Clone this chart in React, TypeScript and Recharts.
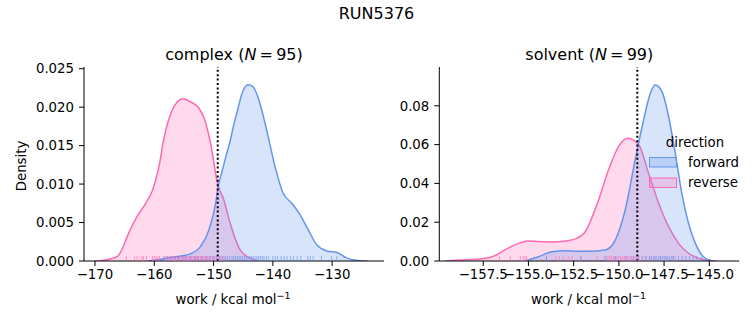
import React from 'react';
import { ComposedChart, Area, Scatter, XAxis, YAxis, ReferenceLine } from 'recharts';

const FORWARD = '#6495ED';
const REVERSE = '#FF69B4';
const FONT = '"DejaVu Sans", sans-serif';

const suptitle = 'RUN5376';
const directions = ['forward', 'reverse'];
const panelTitles = [
  { name: 'complex', n: 95 },
  { name: 'solvent', n: 99 },
];

// complex KDEs
const complexForwardX = [-161, -159, -157, -156, -154, -152.2, -150.8, -149.65, -149.2, -148.8, -147.7, -147.2, -146.55, -146.1, -145.0, -144.15, -143.4, -142.7, -141.9, -140.8, -139.65, -138.25, -136.8, -135.4, -134.0, -132.6, -130.9, -129.2, -127.55, -126, -124];
const complexForwardY = [0, 0.0002, 0.0005, 0.0006, 0.0009, 0.0019, 0.0040, 0.0075, 0.0098, 0.0110, 0.0142, 0.0156, 0.0179, 0.0192, 0.0222, 0.0229, 0.0227, 0.0217, 0.0197, 0.0162, 0.0123, 0.0088, 0.0075, 0.0060, 0.0040, 0.0021, 0.0013, 0.0011, 0.0004, 0.0001, 0];
const complexReverseX = [-170, -168.5, -166.2, -165.2, -164.55, -162.9, -161.45, -160.3, -159.2, -158.4, -157.2, -156.1, -155.2, -153.9, -152.5, -151.6, -150.5, -149.3, -148.25, -147.2, -145.5, -143.9, -142.5];
const complexReverseY = [0, 0.0001, 0.0006, 0.0019, 0.0032, 0.0058, 0.0075, 0.0092, 0.0123, 0.0158, 0.0192, 0.0207, 0.0211, 0.0207, 0.0199, 0.0186, 0.0153, 0.0100, 0.0079, 0.0049, 0.0014, 0.0004, 0];

// solvent KDEs
const solventForwardX = [-155.2, -154.44, -153.7, -152.96, -152.23, -151.68, -150.75, -150.2, -149.65, -149.1, -148.63, -148.26, -147.99, -147.62, -147.25, -146.88, -146.52, -146.15, -145.77, -145.32, -144.8];
const solventForwardY = [0, 0.0022, 0.0048, 0.0053, 0.0050, 0.0050, 0.0057, 0.0108, 0.0263, 0.0521, 0.0728, 0.0865, 0.0907, 0.0874, 0.0745, 0.0556, 0.0349, 0.0195, 0.0091, 0.0022, 0];
const solventReverseX = [-159.6, -158.87, -157.76, -157.0, -156.3, -155.55, -155.0, -154.44, -153.7, -152.96, -152.4, -151.86, -151.12, -150.57, -150.02, -149.5, -148.9, -148.36, -147.8, -147.25, -146.7, -146.15, -145.4, -144.6];
const solventReverseY = [0, 0.0005, 0.001, 0.0022, 0.0057, 0.0091, 0.0103, 0.0100, 0.0098, 0.0103, 0.0114, 0.0151, 0.0315, 0.047, 0.059, 0.0633, 0.0599, 0.0453, 0.0298, 0.0177, 0.0091, 0.004, 0.0009, 0];

// rug samples
const complexReverseRug = [-164.7, -163.3, -162.9, -162.1, -161.8, -161.3, -160.3, -160.0, -159.7, -159.4, -159.1, -158.2, -157.9, -157.6, -157.3, -157.1, -156.8, -156.6, -156.4, -156.1, -155.9, -155.7, -155.5, -155.3, -155.1, -154.9, -154.7, -154.5, -154.3, -154.1, -153.9, -153.7, -153.5, -153.3, -153.1, -152.9, -152.7, -152.5, -152.2, -152.0, -151.8, -151.5, -151.3, -151.0, -150.8, -150.5, -150.2, -149.9, -149.6, -149.2, -148.8, -148.4, -147.9];
const complexForwardRug = [-158.4, -157.8, -157.2, -156.5, -155.9, -155.2, -154.6, -153.9, -153.2, -152.6, -151.9, -151.2, -150.6, -150.0, -149.5, -149.0, -148.5, -148.1, -147.7, -147.3, -146.9, -146.6, -146.3, -146.0, -145.7, -145.4, -145.1, -144.8, -144.5, -144.2, -143.9, -143.6, -143.3, -143.0, -142.7, -142.4, -142.1, -141.8, -141.5, -141.1, -140.7, -140.0, -139.6, -139.2, -138.6, -138.1, -137.6, -137.0, -136.5, -135.9, -135.3, -134.1, -133.7, -133.2, -131.8, -130.1, -129.2];
const solventReverseRug = [-156.6, -156.0, -155.45, -155.3, -155.2, -155.1, -154.0, -153.5, -153.3, -153.1, -152.8, -152.6, -152.1, -151.2, -150.8, -150.6, -150.5, -150.4, -150.3, -150.2, -150.1, -150.0, -149.9, -149.8, -149.7, -149.6, -149.5, -149.4, -149.3, -149.2, -149.1, -149.0, -148.9, -148.7, -148.5, -148.3, -148.0, -147.7, -147.4, -147.0];
const solventForwardRug = [-154.0, -152.1, -150.7, -150.2, -149.6, -149.2, -148.9, -148.7, -148.5, -148.3, -148.2, -148.1, -148.0, -147.9, -147.8, -147.7, -147.6, -147.5, -147.4, -147.3, -147.2, -147.1, -147.0, -146.9, -146.7, -146.5, -146.3, -146.1, -145.9, -145.7, -145.4];

// reference lines
const complexRef = -149.3;
const solventRef = -148.98;

// axes
const complexXTicks = [-170, -160, -150, -140, -130];
const complexYTicks = [0, 0.005, 0.01, 0.015, 0.02, 0.025];
const solventXTicks = [-157.5, -155, -152.5, -150, -147.5, -145];
const solventYTicks = [0, 0.02, 0.04, 0.06, 0.08];

const toPts = (xs: number[], ys: number[]) => xs.map((x, i) => ({ x, y: ys[i] }));
const toRug = (xs: number[]) => xs.map((x) => ({ x, y: 0 }));
const fmt = (d: number) => (v: number) => v.toFixed(d).replace('-', '\u2212');

const rugShape = (color: string) => (props: any) => {
  const { cx, cy } = props;
  return <line x1={cx} x2={cx} y1={cy} y2={cy - 5} stroke={color} strokeOpacity={0.65} strokeWidth={1} />;
};

const tickStyle = { fontSize: 13.3, fill: '#000', fontFamily: FONT };

type PanelProps = {
  fwd: { x: number; y: number }[];
  rev: { x: number; y: number }[];
  fwdRug: { x: number; y: number }[];
  revRug: { x: number; y: number }[];
  xDomain: [number, number];
  yDomain: [number, number];
  xTicks: number[];
  yTicks: number[];
  xDigits: number;
  yDigits: number;
  ref: number;
  width: number;
  margin: { top: number; right: number; bottom: number; left: number };
  yWidth: number;
};

function Panel(p: PanelProps) {
  return (
    <ComposedChart width={p.width} height={325} margin={p.margin}>
      <XAxis
        dataKey="x"
        type="number"
        domain={p.xDomain}
        ticks={p.xTicks}
        allowDataOverflow
        tickFormatter={fmt(p.xDigits)}
        tick={tickStyle}
        stroke="#000"
        tickSize={5}
        tickMargin={4}
        height={30}
        interval={0}
      />
      <YAxis
        dataKey="y"
        type="number"
        domain={p.yDomain}
        ticks={p.yTicks}
        allowDataOverflow
        tickFormatter={fmt(p.yDigits)}
        tick={tickStyle}
        stroke="#000"
        tickSize={5}
        tickMargin={5}
        width={p.yWidth}
        interval={0}
      />
      <Area data={p.rev} dataKey="y" type="monotone" stroke={REVERSE} strokeWidth={1.5} fill={REVERSE} fillOpacity={0.25} dot={false} activeDot={false} isAnimationActive={false} />
      <Area data={p.fwd} dataKey="y" type="monotone" stroke={FORWARD} strokeWidth={1.5} fill={FORWARD} fillOpacity={0.25} dot={false} activeDot={false} isAnimationActive={false} />
      <Scatter data={p.revRug} dataKey="y" shape={rugShape(REVERSE)} isAnimationActive={false} />
      <Scatter data={p.fwdRug} dataKey="y" shape={rugShape(FORWARD)} isAnimationActive={false} />
      <ReferenceLine x={p.ref} stroke="#000" strokeWidth={2} strokeDasharray="2 2.4" />
    </ComposedChart>
  );
}

function TitleN({ x, name, n }: { x: number; name: string; n: number }) {
  return (
    <text x={x} y={59.5} textAnchor="middle" fontSize={16} fontFamily={FONT} fill="#000">
      {name} (<tspan fontStyle="italic">N</tspan>{'\u2009=\u2009'}{n})
    </text>
  );
}

function XLabel({ x }: { x: number }) {
  return (
    <text x={x} y={304} textAnchor="middle" fontSize={13.3} fontFamily={FONT} fill="#000">
      work / kcal mol<tspan fontSize={9.5} dy={-5.5}>{'\u22121'}</tspan>
    </text>
  );
}

export default function App() {
  const colors = [FORWARD, REVERSE];
  return (
    <div style={{ position: 'absolute', left: 0, top: 0, width: 753, height: 325, background: '#fff', fontFamily: FONT }}>
      <div style={{ position: 'absolute', left: 0, top: 0 }}>
        <Panel
          fwd={toPts(complexForwardX, complexForwardY)}
          rev={toPts(complexReverseX, complexReverseY)}
          fwdRug={toRug(complexForwardRug)}
          revRug={toRug(complexReverseRug)}
          xDomain={[-171.85, -121.26]}
          yDomain={[0, 0.02522]}
          xTicks={complexXTicks}
          yTicks={complexYTicks}
          xDigits={0}
          yDigits={3}
          ref={complexRef}
          width={400}
          margin={{ top: 67, right: 16, bottom: 34, left: 34 }}
          yWidth={50}
        />
      </div>
      <div style={{ position: 'absolute', left: 390, top: 0 }}>
        <Panel
          fwd={toPts(solventForwardX, solventForwardY)}
          rev={toPts(solventReverseX, solventReverseY)}
          fwdRug={toRug(solventForwardRug)}
          revRug={toRug(solventReverseRug)}
          xDomain={[-159.93, -143.34]}
          yDomain={[0, 0.1]}
          xTicks={solventXTicks}
          yTicks={solventYTicks}
          xDigits={1}
          yDigits={2}
          ref={solventRef}
          width={363}
          margin={{ top: 67, right: 13.7, bottom: 34, left: 9.3 }}
          yWidth={40}
        />
      </div>
      <svg width={753} height={325} style={{ position: 'absolute', left: 0, top: 0, pointerEvents: 'none' }}>
        <text x={376.5} y={19} textAnchor="middle" fontSize={16} fontFamily={FONT} fill="#000">{suptitle}</text>
        <TitleN x={234} name={panelTitles[0].name} n={panelTitles[0].n} />
        <TitleN x={589.3} name={panelTitles[1].name} n={panelTitles[1].n} />
        <XLabel x={233} />
        <XLabel x={588.5} />
        <text x={25.5} y={166} transform="rotate(-90 25.5 166)" textAnchor="middle" fontSize={13.3} fontFamily={FONT} fill="#000">Density</text>
        <text x={695} y={146.5} textAnchor="middle" fontSize={13.3} fontFamily={FONT} fill="#000">direction</text>
        {directions.map((d, i) => (
          <g key={d}>
            <rect x={649.5} y={157.5 + i * 20.5} width={27} height={9.5} fill={colors[i]} fillOpacity={0.25} stroke={colors[i]} strokeWidth={1} />
            <text x={688} y={166.8 + i * 20.5} fontSize={13.3} fontFamily={FONT} fill="#000">{d}</text>
          </g>
        ))}
      </svg>
    </div>
  );
}
